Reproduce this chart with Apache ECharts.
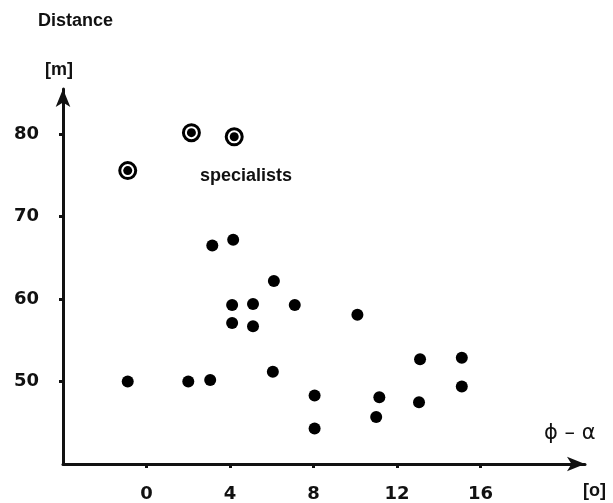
<!DOCTYPE html>
<html>
<head>
<meta charset="utf-8">
<script src="https://cdn.jsdelivr.net/npm/echarts@6/dist/echarts.min.js"></script>
<style>
  html, body { margin: 0; padding: 0; background: #fff; }
  #chart { width: 613px; height: 503px; }
</style>
</head>
<body>
<div id="chart"></div>
<script>
// phi - alpha [deg] vs distance [m]
const players = [
  [-0.9, 50.0], [2.0, 50.0], [3.05, 50.2], [3.15, 66.5], [4.15, 67.2],
  [4.1, 59.3], [4.1, 57.1], [5.1, 59.4], [5.1, 56.7], [6.1, 62.2],
  [7.1, 59.3], [6.05, 51.2], [8.05, 48.3], [8.05, 44.3], [10.1, 58.1],
  [11.0, 45.7], [11.15, 48.1], [13.1, 52.7], [13.05, 47.5], [15.1, 52.9],
  [15.1, 49.4]
]
const specialists = [[-0.9, 75.6], [2.15, 80.2], [4.2, 79.7]]
const xTicks = [0, 4, 8, 12, 16]
const yTicks = [50, 60, 70, 80]

const ink = '#111'
const textFont = 'bold 18px "Liberation Sans"'

const chart = echarts.init(document.getElementById('chart'))

const axisCommon = {
  type: 'value',
  splitLine: { show: false },
  axisLine: {
    onZero: false,
    lineStyle: { color: ink, width: 3 },
    symbol: ['none', 'arrow'],
    symbolSize: [11, 18]
  },
  axisTick: { length: 4, lineStyle: { color: ink, width: 3 } },
  axisLabel: { color: ink, fontFamily: 'DejaVu Sans', fontWeight: 'bold', fontSize: 18 }
}

chart.setOption({
  animation: false,
  grid: { left: 63, top: 89, width: 522, height: 375 },
  xAxis: {
    ...axisCommon,
    min: -4,
    max: 21,
    interval: 4,
    axisTick: { ...axisCommon.axisTick, customValues: xTicks },
    axisLabel: { ...axisCommon.axisLabel, customValues: xTicks, margin: 21 }
  },
  yAxis: {
    ...axisCommon,
    min: 40,
    max: 85.5,
    interval: 10,
    axisTick: { ...axisCommon.axisTick, customValues: yTicks },
    axisLabel: { ...axisCommon.axisLabel, customValues: yTicks, margin: 24 }
  },
  graphic: [
    { type: 'text', left: 38, top: 12, style: { text: 'Distance', font: textFont, fill: ink } },
    { type: 'text', left: 45, top: 61, style: { text: '[m]', font: textFont, fill: ink } },
    { type: 'text', left: 200, top: 167, style: { text: 'specialists', font: textFont, fill: ink } },
    { type: 'text', left: 544, top: 423, style: { text: 'ϕ – α', font: '21px "DejaVu Sans"', fill: ink } },
    { type: 'text', left: 583, top: 482, style: { text: '[o]', font: textFont, fill: ink } }
  ],
  series: [
    {
      type: 'scatter',
      data: players,
      symbolSize: 12,
      itemStyle: { color: '#000', opacity: 1 }
    },
    {
      type: 'scatter',
      data: specialists,
      symbolSize: 16,
      itemStyle: { color: '#fff', borderColor: '#000', borderWidth: 3, opacity: 1 }
    },
    {
      type: 'scatter',
      data: specialists,
      symbolSize: 9,
      itemStyle: { color: '#000', opacity: 1 }
    }
  ]
})
</script>
</body>
</html>
